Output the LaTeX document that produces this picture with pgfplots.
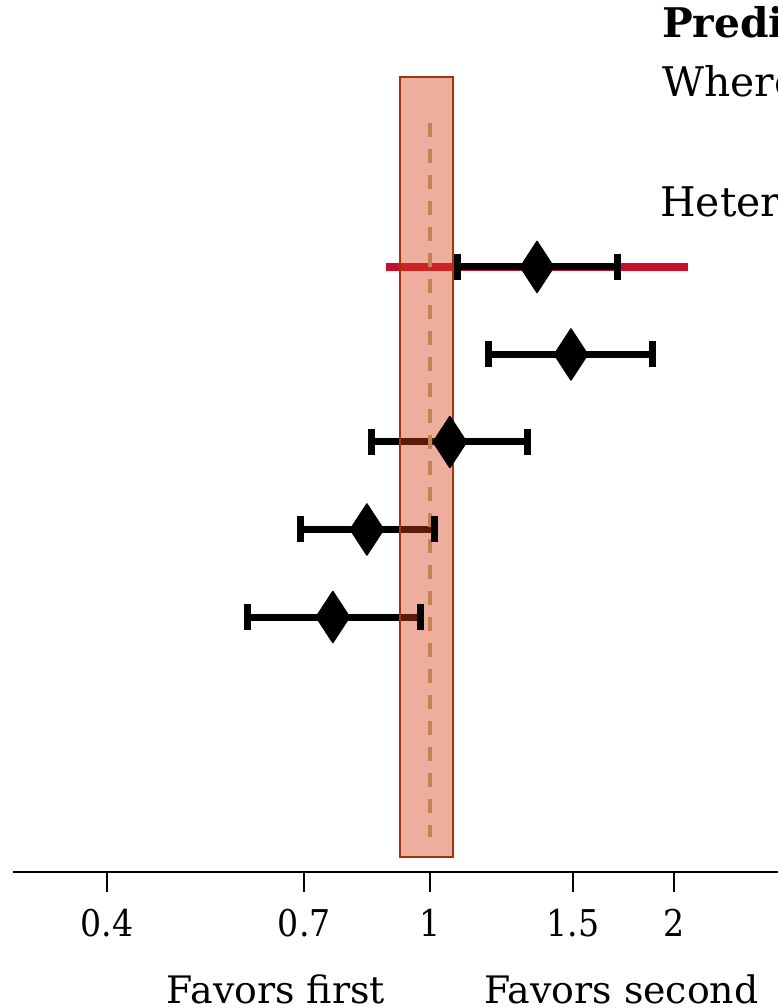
\documentclass[border=0pt]{standalone}
\usepackage{pgfplots}
\pgfplotsset{compat=1.18}
\usepackage{fontspec}
\setmainfont{DejaVu Serif}
\newfontfamily\condfont[FakeStretch=0.9]{DejaVu Serif}
\definecolor{ropefill}{RGB}{214,62,24}
\definecolor{ropeedge}{RGB}{165,50,15}
\definecolor{ropedash}{RGB}{196,128,86}
\definecolor{pired}{RGB}{200,16,46}
\begin{document}
\begin{tikzpicture}
\begin{axis}[
  at={(13bp,136bp)}, anchor=south west,
  scale only axis, width=787bp, height=872bp,
  xmode=log, xmin=0.30614, xmax=2.8583,
  ymin=-1.914, ymax=8.051,
  axis y line=none, axis x line*=bottom,
  x axis line style={line width=2bp, -},
  xtick={0.4,0.7,1,1.5,2},
  xticklabels={0.4,0.7,1,1.5,2},
  xminorticks=false,
  tick align=outside,
  major tick length=20bp,
  tick style={line width=2bp, black},
  xticklabel style={font=\condfont\fontsize{37}{44}\selectfont, inner sep=0pt, yshift=-17bp},
  clip=false,
]
% prediction interval (row 1)
\addplot[pired, line width=7.5bp] coordinates {(0.883,5) (2.08,5)};
% confidence intervals
\addplot[black, line width=7bp, mark=|, mark size=13bp, mark options={line width=7bp, solid}] coordinates {(1.080,5) (1.705,5)};
\addplot[black, line width=7bp, mark=|, mark size=13bp, mark options={line width=7bp, solid}] coordinates {(1.179,4) (1.878,4)};
\addplot[black, line width=7bp, mark=|, mark size=13bp, mark options={line width=7bp, solid}] coordinates {(0.848,3) (1.317,3)};
\addplot[black, line width=7bp, mark=|, mark size=13bp, mark options={line width=7bp, solid}] coordinates {(0.693,2) (1.014,2)};
\addplot[black, line width=7bp, mark=|, mark size=13bp, mark options={line width=7bp, solid}] coordinates {(0.595,1) (0.972,1)};
% point estimates
\addplot[only marks, mark=diamond*, mark size=25.5bp, mark options={fill=black, draw=black, line width=1.5bp, line join=round, xscale=0.87}] coordinates {(1.355,5) (1.492,4) (1.058,3) (0.836,2) (0.759,1)};
% ROPE region
\addplot[draw=ropeedge, line width=2bp, line join=miter, fill=ropefill, fill opacity=0.42] coordinates {(0.918,-1.743) (1.068,-1.743) (1.068,7.171) (0.918,7.171) (0.918,-1.743)} -- cycle;
% null line
\addplot[ropedash, line width=3.5bp, dash pattern=on 14bp off 12bp] coordinates {(1,6.646) (1,-1.514)};
\end{axis}
\node[anchor=base west, inner sep=0pt, font=\fontsize{41}{49}\selectfont\bfseries] at (662bp,970bp) {Prediction interval};
\node[anchor=base west, inner sep=0pt, font=\fontsize{41}{49}\selectfont] at (662bp,911bp) {Where the true effect};
\node[anchor=base west, inner sep=0pt, font=\fontsize{41}{49}\selectfont] at (660bp,791bp) {Heterogeneity};
\node[anchor=base east, inner sep=0pt, font=\fontsize{38}{45}\selectfont] at (385bp,5bp) {Favors first};
\node[anchor=base west, inner sep=0pt, font=\fontsize{38}{45}\selectfont] at (484bp,5bp) {Favors second};
\pgfresetboundingbox
\path[use as bounding box] (0,0) rectangle (778bp,1008bp);
\end{tikzpicture}
\end{document}
